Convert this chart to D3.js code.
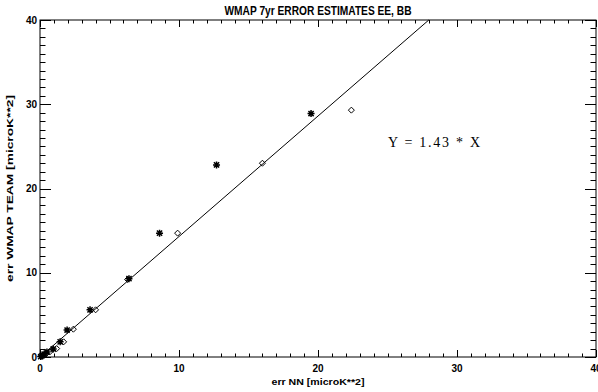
<!DOCTYPE html>
<html>
<head>
<meta charset="utf-8">
<script src="https://cdn.jsdelivr.net/npm/d3@7"></script>
<style>
  body { margin: 0; background: #fff; }
  svg { display: block; }
</style>
</head>
<body>
<svg id="chart" width="598" height="392"></svg>
<script>
// Error estimates: WMAP team vs NN, EE (asterisks) and BB (diamonds)
const eeX = [0.05, 0.15, 0.3, 0.5, 0.95, 1.45, 1.95, 3.6, 6.4, 8.6, 12.7, 19.5];
const eeY = [0.05, 0.15, 0.35, 0.6, 0.95, 1.8, 3.2, 5.6, 9.3, 14.7, 22.8, 28.9];
const bbX = [0.1, 0.25, 0.45, 0.7, 1.2, 1.7, 2.4, 4.0, 6.3, 9.9, 16.0, 22.4];
const bbY = [0.1, 0.2, 0.4, 0.6, 1.0, 1.8, 3.3, 5.6, 9.2, 14.7, 23.0, 29.3];
const slope = 1.43;
const xTicks = [0, 10, 20, 30, 40];
const yTicks = [0, 10, 20, 30, 40];
const xMinor = d3.range(0, 41, 1);
const yMinor = d3.range(0, 41, 1);

const svg = d3.select("#chart");
const L = 40, R = 596, T = 20, B = 357;
const x = d3.scaleLinear().domain([0, 40]).range([L, R]);
const y = d3.scaleLinear().domain([0, 40]).range([B, T]);
const lab = "'Liberation Sans Narrow', 'Liberation Sans', Arial, sans-serif";
const sans = "'Liberation Sans', Arial, sans-serif";

// Frame
svg.append("rect").attr("x", L).attr("y", T).attr("width", R - L).attr("height", B - T)
  .attr("fill", "none").attr("stroke", "#000").attr("stroke-width", 1);

// Inward ticks on all four sides
const xMajLen = 7, xMinLen = 3.5, yMajLen = 11, yMinLen = 5.5;
const tk = svg.append("g").attr("stroke", "#000").attr("stroke-width", 1);
xMinor.forEach(v => {
  const len = v % 10 === 0 ? xMajLen : xMinLen;
  const px = Math.round(x(v)) + 0.5;
  tk.append("line").attr("x1", px).attr("x2", px).attr("y1", B).attr("y2", B - len);
  tk.append("line").attr("x1", px).attr("x2", px).attr("y1", T).attr("y2", T + len);
});
yMinor.forEach(v => {
  const len = v % 10 === 0 ? yMajLen : yMinLen;
  const py = Math.round(y(v)) + 0.5;
  tk.append("line").attr("x1", L).attr("x2", L + len).attr("y1", py).attr("y2", py);
  tk.append("line").attr("x1", R).attr("x2", R - len).attr("y1", py).attr("y2", py);
});

// Tick labels
svg.append("g").selectAll("text").data(xTicks).join("text")
  .attr("x", d => x(d)).attr("y", B + 15)
  .attr("text-anchor", "middle")
  .attr("font-family", lab).attr("font-weight", "bold").attr("font-size", 10)
  .text(d => d);
svg.append("g").selectAll("text").data(yTicks).join("text")
  .attr("x", L - 3).attr("y", d => y(d) + 3.5)
  .attr("text-anchor", "end")
  .attr("font-family", lab).attr("font-weight", "bold").attr("font-size", 10)
  .text(d => d);

// Titles
svg.append("text").attr("x", (L + R) / 2).attr("y", 15)
  .attr("text-anchor", "middle")
  .attr("font-family", lab).attr("font-size", 12.5).attr("font-weight", "bold")
  .attr("textLength", 187).attr("lengthAdjust", "spacingAndGlyphs")
  .text("WMAP 7yr ERROR ESTIMATES EE, BB");
svg.append("text").attr("x", (L + R) / 2).attr("y", 385)
  .attr("text-anchor", "middle")
  .attr("font-family", sans).attr("font-size", 9).attr("font-weight", "bold")
  .attr("textLength", 93).attr("lengthAdjust", "spacingAndGlyphs")
  .text("err NN [microK**2]");
svg.append("text")
  .attr("transform", `translate(13, ${(T + B) / 2}) rotate(-90)`)
  .attr("text-anchor", "middle")
  .attr("font-family", sans).attr("font-size", 9).attr("font-weight", "bold")
  .attr("textLength", 187).attr("lengthAdjust", "spacingAndGlyphs")
  .text("err WMAP TEAM [microK**2]");

// Fit line Y = slope * X, clipped to the plot top
const xEnd = Math.min(40, 40 / slope);
svg.append("line")
  .attr("x1", x(0)).attr("y1", y(0))
  .attr("x2", x(xEnd)).attr("y2", y(slope * xEnd))
  .attr("stroke", "#000").attr("stroke-width", 1);

svg.append("text").attr("x", 388).attr("y", 147)
  .attr("font-family", "'Liberation Serif', 'Times New Roman', serif")
  .attr("font-size", 14)
  .attr("textLength", 92).attr("lengthAdjust", "spacing")
  .text("Y = " + slope.toFixed(2) + " * X");

// Asterisk markers
const ee = d3.zip(eeX, eeY);
const s = 3.5, d2 = 2.6;
const star = `M${-s},0L${s},0M0,${-s}L0,${s}M${-d2},${-d2}L${d2},${d2}M${-d2},${d2}L${d2},${-d2}`;
svg.append("g").selectAll("path").data(ee).join("path")
  .attr("transform", d => `translate(${x(d[0])},${y(d[1])})`)
  .attr("d", star).attr("fill", "none").attr("stroke", "#000").attr("stroke-width", 1.5);

// Diamond markers
const bb = d3.zip(bbX, bbY);
const r = 3;
svg.append("g").selectAll("path").data(bb).join("path")
  .attr("transform", d => `translate(${x(d[0])},${y(d[1])})`)
  .attr("d", `M0,${-r}L${r},0L0,${r}L${-r},0Z`)
  .attr("fill", "none").attr("stroke", "#000").attr("stroke-width", 1);
</script>
</body>
</html>
